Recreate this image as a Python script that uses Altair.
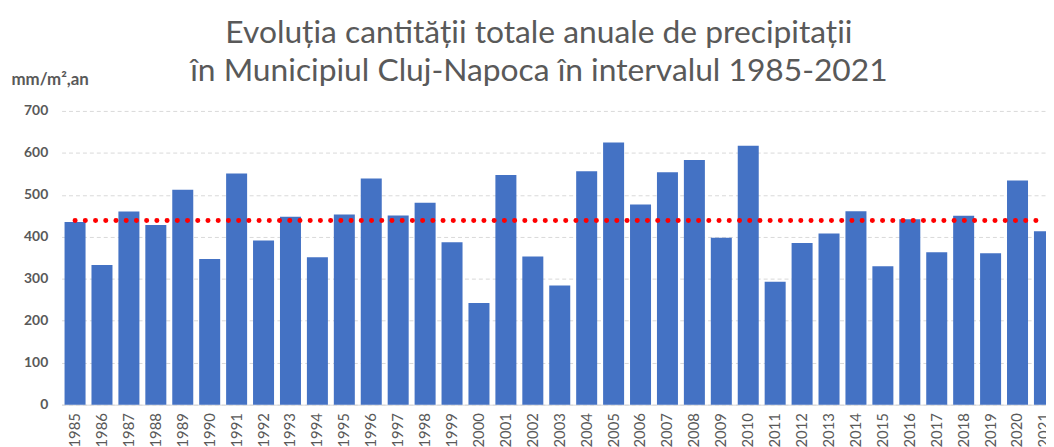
import altair as alt
import pandas as pd

years = ["1985", "1986", "1987", "1988", "1989", "1990", "1991", "1992", "1993",
         "1994", "1995", "1996", "1997", "1998", "1999", "2000", "2001", "2002",
         "2003", "2004", "2005", "2006", "2007", "2008", "2009", "2010", "2011",
         "2012", "2013", "2014", "2015", "2016", "2017", "2018", "2019", "2020",
         "2021"]
precip = [435, 333, 460, 428, 512, 347, 551, 391, 448,
          351, 453, 539, 451, 481, 387, 242, 547, 353,
          284, 556, 625, 477, 554, 583, 398, 617, 293,
          385, 408, 461, 330, 442, 363, 450, 361, 534,
          413]
y_ticks = [0, 100, 200, 300, 400, 500, 600, 700]
title_lines = ["Evoluția cantității totale anuale de precipitații",
               "în Municipiul Cluj-Napoca în intervalul 1985-2021"]
y_title = "mm/m²,an"

df = pd.DataFrame({"an": years, "precipitatii": precip})

FONT = "Lato"
GREY = "#595959"

x_enc = alt.X(
    "an:N", sort=None,
    scale=alt.Scale(paddingInner=0.22, paddingOuter=0.11, range=[0, 1004]),
    axis=alt.Axis(title=None, labelAngle=-90, labelFont=FONT, labelFontSize=15,
                  labelColor=GREY, labelPadding=8, ticks=False, domainColor="#d9d9d9",
                  domainWidth=1, grid=False, labelOverlap=False),
)
y_enc = alt.Y(
    "precipitatii:Q",
    scale=alt.Scale(domain=[0, 700], nice=False),
    axis=alt.Axis(values=y_ticks, title=y_title, titleAngle=0, titleAlign="left",
                  titleBaseline="alphabetic", titleX=-51, titleY=-27, titleFont=FONT,
                  titleFontSize=17, titleFontWeight="bold", titleColor=GREY,
                  labelFont=FONT, labelFontSize=14, labelFontWeight="bold",
                  labelColor=GREY, labelPadding=14, ticks=False, tickSize=0,
                  domain=False, gridColor="#d9d9d9", gridDash=[4, 3], gridWidth=1),
)

bars = alt.Chart(df).mark_bar(color="#4472C4").encode(x=x_enc, y=y_enc)

mean_line = alt.Chart(df).transform_joinaggregate(
    media="mean(precipitatii)"
).mark_line(color="#ff0000", strokeWidth=5, strokeCap="round",
            strokeDash=[0.1, 10.2]).encode(
    x=alt.X("an:N", sort=None),
    y=alt.Y("media:Q"),
)

chart = alt.layer(bars, mean_line).properties(
    width=992, height=296,
    autosize=alt.AutoSizeParams(type="none"),
    padding={"left": 54, "top": 102, "right": 0, "bottom": 45},
    background="white",
    title=alt.TitleParams(text=title_lines, font=FONT, fontSize=32, fontWeight="normal",
                          color=GREY, anchor="middle", dx=-15, dy=22, lineHeight=38),
).configure_view(stroke=None)

chart.save("out.html", embed_options={"renderer": "svg", "actions": False})
